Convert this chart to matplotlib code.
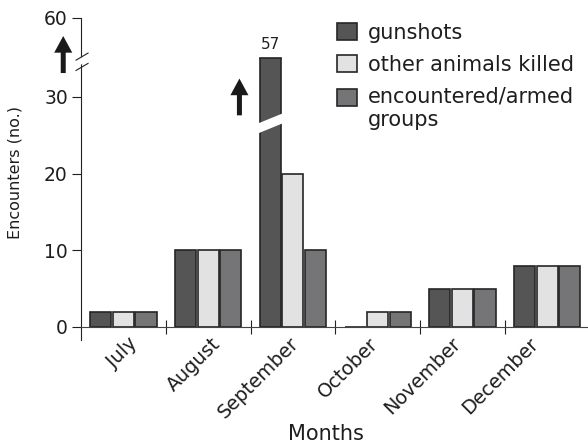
import numpy as np
import matplotlib
matplotlib.use('Agg')
from matplotlib import pyplot as plt
from matplotlib import transforms
from matplotlib.legend_handler import HandlerPatch

# monthly counts
months = ['July', 'August', 'September', 'October', 'November', 'December']
gunshots = [2, 10, 57, 0, 5, 8]
animals_killed = [2, 10, 20, 2, 5, 8]
armed_groups = [2, 10, 10, 2, 5, 8]
labels = ['gunshots', 'other animals killed', 'encountered/armed\ngroups']
colors = ['#555555', '#e2e2e2', '#757577']

brk = 35.0      # where the y axis is broken
squash = 0.212  # compression of the range above the break
cap = 35.2      # bars taller than this are cut off

def fwd(y):
	y = np.asarray(y, dtype=float)
	return np.where(y <= brk, y, brk + (y - brk) * squash)

def inv(y):
	y = np.asarray(y, dtype=float)
	return np.where(y <= brk, y, brk + (y - brk) / squash)

def first_line_patch(legend, orig_handle, xdescent, ydescent, width, height, fontsize):
	# square lined up with the first line of a two-line label
	return plt.Rectangle((-xdescent, -ydescent + 0.55*fontsize), width, height)

plt.rcParams['font.family'] = 'DejaVu Sans'

my_dpi = 100
fig = plt.figure(figsize=(588/my_dpi, 445/my_dpi), dpi=my_dpi)
ax = fig.add_axes([0.1378, 0.236, 0.8648, 0.7236])
ax.set_yscale('function', functions=(fwd, inv))

x = np.arange(len(months))
w = 0.25
step = 0.266
edge = '#262626'
series = [gunshots, animals_killed, armed_groups]
bars = []
for j, vals in enumerate(series):
	b = ax.bar(x + (j - 1)*step, vals, w, color=colors[j], edgecolor=edge,
			   linewidth=1.2, zorder=2)
	bars.append(b)

ax.set_xlim(-0.5, len(months) - 0.5)
ax.set_ylim(-1.7, 60)

arrow = 'simple,head_length=12,head_width=13,tail_width=3.6'

# cut the tall bars at the break and write their value on top
for rect, v in zip(bars[0], gunshots):
	if v > cap:
		x0, bw = rect.get_x(), rect.get_width()
		clip = plt.Rectangle((x0 - 0.05, -1.7), bw + 0.1, cap + 1.7,
							 transform=ax.transData)
		rect.set_clip_path(clip)
		ax.plot([x0, x0 + bw], [cap, cap], color=edge, lw=1.2, zorder=3)
		ax.annotate(str(v), xy=(x0 + bw/2, cap), xytext=(0, 7),
					textcoords='offset points', ha='center', va='baseline',
					fontsize=11, color='#222222')
		# slanted gap across the bar
		xl, xr = x0 - 0.03, x0 + bw + 0.03
		ax.fill([xl, xr, xr, xl], [25.2, 26.6, 27.9, 26.5], color='white',
				lw=0, zorder=4)
		ax.annotate('', xy=(x0 - 0.24, 32.4), xytext=(x0 - 0.24, 27.6),
					arrowprops=dict(arrowstyle=arrow, mutation_scale=1,
									color='#1a1a1a', lw=0, shrinkA=0, shrinkB=0))

# arrow beside the top of the y axis
ax.annotate('', xy=(-0.035, 0.944), xytext=(-0.035, 0.829), xycoords='axes fraction',
			arrowprops=dict(arrowstyle=arrow, mutation_scale=1, color='#1a1a1a',
							lw=0, shrinkA=0, shrinkB=0), annotation_clip=False)

# axis break marks on the y axis
ax.fill([-0.01, 0.014, 0.014, -0.01], [0.846, 0.868, 0.890, 0.868],
		transform=ax.transAxes, color='white', lw=0, clip_on=False, zorder=5)
for yb in (0.848, 0.880):
	ax.plot([-0.0098, 0.0138], [yb - 0.011, yb + 0.011], transform=ax.transAxes,
			color='#222222', lw=0.8, clip_on=False, zorder=6)

for s in ['top', 'right']:
	ax.spines[s].set_visible(False)
ax.spines['bottom'].set_position(('data', 0))
ax.spines['left'].set_color('#222222')
ax.spines['bottom'].set_color('#444444')

ax.set_yticks([0, 10, 20, 30, 60])
ax.tick_params(axis='y', direction='out', length=6.5, width=0.8, pad=3,
			   labelsize=13.5, colors='#1e1e1e')

# group boundaries as ticks, month names at the group centres
ax.set_xticks(np.arange(0.5, len(months) - 0.5, 1.0))
ax.set_xticklabels([])
ax.tick_params(axis='x', which='major', direction='inout', length=10, width=0.8,
			   colors='#222222')
ax.set_xticks(x, minor=True)
ax.set_xticklabels(months, minor=True, rotation=45, ha='right',
				   rotation_mode='anchor', fontsize=13.8, color='#1e1e1e')
ax.tick_params(axis='x', which='minor', length=0, pad=5)
# month names drift slightly left along the axis
shift_px = [4, 3, -4, -9, -11, -18]
for lab, dx in zip(ax.get_xticklabels(minor=True), shift_px):
	off = transforms.ScaledTranslation(dx/my_dpi, 0, fig.dpi_scale_trans)
	lab.set_transform(lab.get_transform() + off)

ax.set_xlabel('Months', fontsize=15, color='#1e1e1e')
ax.xaxis.set_label_coords(0.481, -0.262)
ax.set_ylabel('Encounters (no.)', fontsize=11.5, color='#1e1e1e')
ax.yaxis.set_label_coords(-0.115, 0.52)

handles = [b.patches[0] for b in bars]
leg = ax.legend(handles, labels, loc='upper left', bbox_to_anchor=(0.573, 0.949),
				bbox_transform=fig.transFigure, frameon=False, fontsize=15,
				handlelength=0.95, handleheight=0.92, handletextpad=0.55,
				labelspacing=0.57, borderpad=0, borderaxespad=0,
				labelcolor='#1e1e1e',
				handler_map={handles[2]: HandlerPatch(patch_func=first_line_patch)})
for t in leg.get_texts():
	t.set_linespacing(1.2)

plt.savefig('out.png', dpi=my_dpi)
